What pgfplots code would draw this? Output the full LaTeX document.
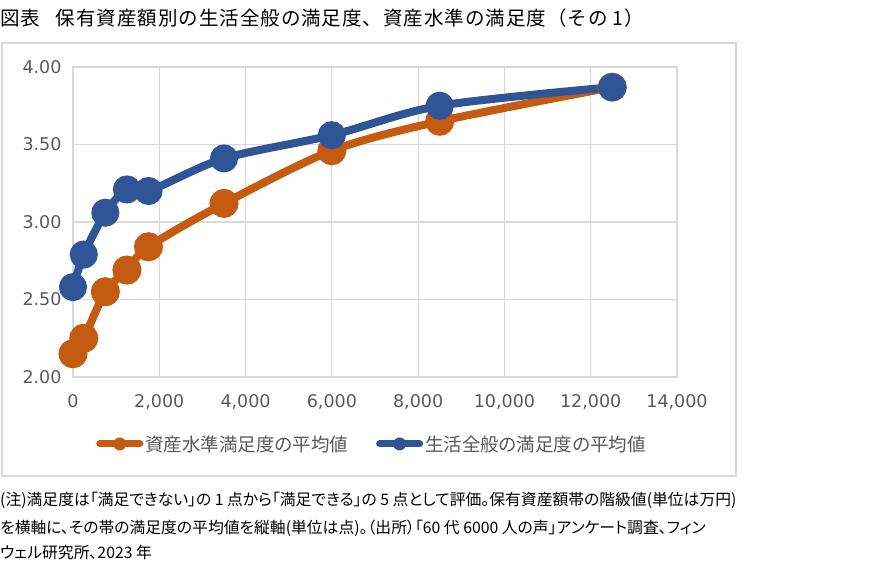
\documentclass[border=0pt]{standalone}
\usepackage{fontspec}
\setmainfont{DejaVu Sans}
\newfontfamily\jp[RawFeature=+palt]{Noto Sans CJK JP}
\newfontfamily\jpfull[LetterSpace=5]{Noto Sans CJK JP}
\usepackage{pgfplots}
\pgfplotsset{compat=1.18}
\definecolor{orgC}{HTML}{C55A11}
\definecolor{bluC}{HTML}{2F5597}
\definecolor{gridC}{HTML}{D9D9D9}
\definecolor{txtC}{HTML}{595959}

\pgfplotstableread{
x     y
0     2.15
250   2.25
750   2.55
1250  2.69
1750  2.84
3500  3.12
6000  3.46
8500  3.65
12500 3.87
}\asset
\pgfplotstableread{
x     y
0     2.58
250   2.79
750   3.06
1250  3.21
1750  3.20
3500  3.41
6000  3.56
8500  3.75
12500 3.87
}\life

\begin{document}
\begin{tikzpicture}
\path[use as bounding box] (0pt,0pt) rectangle (885pt,-569pt);
% title
\node[anchor=base west, inner sep=0pt, font=\jpfull\fontsize{19.5}{24}\selectfont]
  at (0pt,-26pt) {図表\hspace{0.8em}保有資産額別の生活全般の満足度、資産水準の満足度（その 1）};
% chart frame
\draw[gridC, line width=1.5pt] (2pt,-43pt) rectangle (736pt,-476pt);
\begin{axis}[
  at={(73pt,-377pt)}, anchor=south west,
  scale only axis, width=604pt, height=310pt,
  xmin=0, xmax=14000, ymin=2, ymax=4,
  xtick={0,2000,...,14000}, ytick={2,2.5,3,3.5,4},
  scaled x ticks=false, scaled y ticks=false,
  grid=major, grid style={gridC, line width=1.2pt},
  axis line style={gridC, line width=1.2pt},
  major tick length=0pt,
  tick label style={font=\fontsize{17.5}{20}\selectfont, text=txtC},
  /pgf/number format/assume math mode=true,
  xticklabel style={yshift=-14pt, /pgf/number format/1000 sep={,}},
  yticklabel style={xshift=-8pt, /pgf/number format/.cd, fixed, fixed zerofill, precision=2},
  legend columns=2,
  legend style={at={(0.5,-0.216)}, anchor=center, xshift=-3pt, draw=none,
    font=\jp\fontsize{18.5}{22}\selectfont, text=txtC,
    /tikz/every even column/.append style={column sep=26pt}},
]
\addplot[orgC, line width=8pt, smooth, mark=*, mark size=10.5pt,
  mark options={draw=none, fill=orgC},
  legend image code/.code={
    \draw[orgC, line width=7pt, line cap=round] (0pt,0pt) -- (40pt,0pt);
    \fill[orgC, draw=none] (20pt,0pt) circle (6.5pt);}]
  table[x=x, y=y] {\asset};
\addlegendentry{資産水準満足度の平均値}
\addplot[bluC, line width=8pt, smooth, mark=*, mark size=10pt,
  mark options={draw=none, fill=bluC},
  legend image code/.code={
    \draw[bluC, line width=7pt, line cap=round] (0pt,0pt) -- (40pt,0pt);
    \fill[bluC, draw=none] (20pt,0pt) circle (6.5pt);}]
  table[x=x, y=y] {\life};
\addlegendentry{生活全般の満足度の平均値}
\end{axis}
% notes
\begin{scope}[every node/.style={anchor=base west, inner sep=0pt, font=\jp\fontsize{15.8}{18}\selectfont}]
\node at (0pt,-505pt) {(注)満足度は「満足できない」の 1 点から「満足できる」の 5 点として評価。保有資産額帯の階級値(単位は万円)};
\node at (0pt,-533pt) {を横軸に、その帯の満足度の平均値を縦軸(単位は点)。（出所）「60 代 6000 人の声」アンケート調査、フィン};
\node at (0pt,-558pt) {ウェル研究所、2023 年};
\end{scope}
\end{tikzpicture}
\end{document}
